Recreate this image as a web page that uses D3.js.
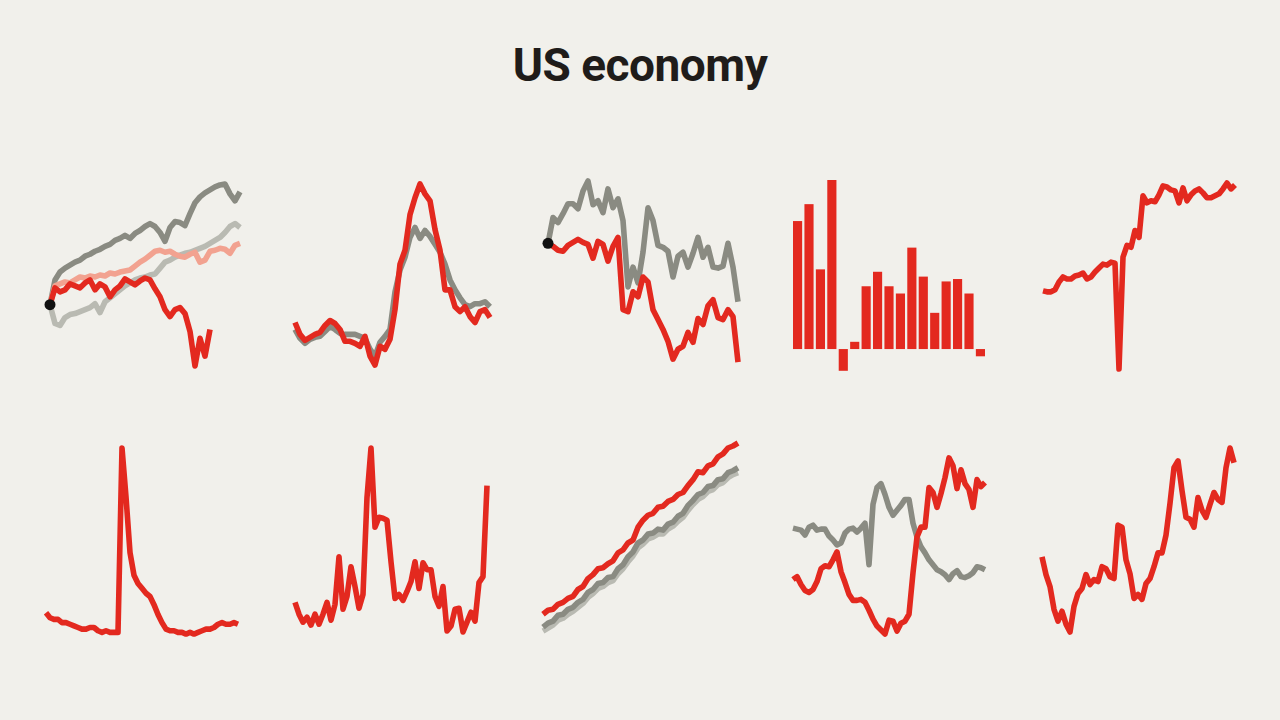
<!DOCTYPE html>
<html><head><meta charset="utf-8">
<script src="https://cdn.jsdelivr.net/npm/d3@7/dist/d3.min.js"></script>
<style>
html,body{margin:0;padding:0;background:#f1f0eb;}
svg{display:block;}
</style></head>
<body>
<svg id="chart" width="1280" height="720"></svg>
<script>
// ---------- DATA (index units in panel-relative scale) ----------
const title = "US economy";

// Panel 1: four indexed series, common start
const p1DarkGray = [67,92,100,104,107,110,112,116,118,121,123,126,128,132,134,137,134,139,142,146,149,146,140,131,145,151,150,147,159,170,176,180,183,186,188,189,179,172,181];
const p1LightGray = [67,48,46,54,57,58,60,62,64,68,59,70,74,78,82,86,89,92,94,95,97,98,104,110,112,115,117,119,120,122,124,126,129,132,135,140,146,149,145];
const p1Pink = [67,86,88,90,89,92,95,94,96,95,97,96,99,98,100,101,102,106,110,113,117,121,122,120,121,118,116,115,118,120,110,112,121,122,124,123,119,127,129];
const p1Red = [67,84,80,82,88,86,84,89,92,82,88,85,75,82,86,93,90,87,91,94,92,83,75,62,55,62,64,58,40,5,33,15,42];

// Panel 2
const p2Gray = [42,33,28,32,34,35,40,45,42,38,37,37,37,35,33,22,15,29,35,42,80,102,115,135,145,134,142,136,128,120,108,92,82,74,67,65,68,68,70,65];
const p2Red = [49,37,31,34,37,39,46,51,48,42,30,30,28,25,35,15,6,25,22,32,62,108,122,158,175,189,179,172,143,122,82,82,65,60,65,55,49,60,62,54];

// Panel 3
const p3Gray = [129,155,150,159,169,169,164,182,192,168,172,160,184,165,174,152,85,105,89,120,165,152,127,125,121,95,116,120,105,119,135,115,125,105,104,106,129,105,70];
const p3Red = [129,126,122,121,127,130,133,130,128,114,131,128,111,126,135,62,60,80,75,95,90,62,52,42,30,12,22,25,39,29,53,47,66,72,54,52,62,55,9];

// Panel 4: quarterly GDP growth (%)
const p4Quarters = ["2021Q1","2021Q2","2021Q3","2021Q4","2022Q1","2022Q2","2022Q3","2022Q4","2023Q1","2023Q2","2023Q3","2023Q4","2024Q1","2024Q2","2024Q3","2024Q4","2025Q1"];
const p4Growth = [5.3,6.0,3.3,7.0,-0.9,0.3,2.6,3.2,2.6,2.3,4.2,3.0,1.5,2.8,2.9,2.3,-0.3];

// Panel 5
const p5Red = [81,80,80,82,90,95,93,93,96,97,99,93,95,100,104,108,107,110,109,2,115,127,125,142,135,177,170,172,171,178,187,186,183,182,170,185,172,178,182,184,180,175,175,177,179,184,190,184,188];

// Panel 6: unemployment rate (%)
const p6Unemployment = [4.7,4.4,4.3,4.3,4.1,4.1,4.0,3.9,3.8,3.7,3.7,3.8,3.8,3.6,3.5,3.6,3.5,3.5,3.5,14.8,11.8,8.4,7.0,6.5,6.2,5.9,5.7,5.2,4.6,4.1,3.7,3.6,3.6,3.5,3.5,3.4,3.5,3.4,3.5,3.6,3.7,3.7,3.8,4.0,4.1,4.0,4.0,4.1,4.0];

// Panel 7
const p7Red = [34,22,14,19,11,22,12,22,34,16,32,80,27,40,70,50,28,42,140,190,110,120,119,117,75,38,42,36,45,55,75,48,74,67,67,40,30,50,5,10,27,28,4,14,24,15,54,60,152];

// Panel 8
const p8Red = [22,26,27,32,34,38,40,47,50,58,62,68,69,73,76,84,87,94,97,110,117,122,124,130,131,136,138,143,145,152,158,166,165,172,174,181,184,190,192,195];
const p8Gray = [9,13,15,21,22,27,29,34,37,44,47,53,54,59,60,68,72,80,85,94,97,103,104,108,107,113,115,121,124,132,137,143,145,151,152,158,159,165,167,170];
const p8LightGray = [5,8,11,16,18,22,25,29,33,39,43,48,50,54,56,63,68,75,81,89,93,98,100,103,103,108,111,116,120,127,133,138,141,146,148,153,155,160,163,165];

// Panel 9
const p9Gray = [109,108,107,102,110,112,107,108,108,101,97,92,94,104,108,109,105,109,114,72,133,150,154,143,130,122,127,132,138,138,114,100,90,84,77,72,67,65,62,57,63,66,60,59,61,64,70,69,67];
const p9Red = [57,60,52,46,44,47,55,68,71,70,77,85,65,54,42,36,36,37,34,26,17,10,6,2,16,15,5,13,15,22,64,100,110,110,150,145,130,144,160,180,172,149,168,154,148,130,158,151,155];

// Panel 10
const p10Red = [80,62,50,27,15,25,12,4,30,43,48,62,52,57,55,70,68,60,58,112,110,77,63,38,42,37,53,58,70,84,84,102,134,170,177,147,120,118,110,140,127,120,133,145,138,135,170,190,175];

// ---------- STYLE / LAYOUT ----------
const C = {red:"#e3291f", gray:"#8a8b82", lightGray:"#b9bab2", pink:"#f2a290", dot:"#111"};
const LW = 5.6;
const rows = [{top:181, bottom:371},{top:446, bottom:636}];

const svg = d3.select("#chart");
svg.append("text").attr("x",640).attr("y",81).attr("text-anchor","middle")
  .attr("font-family","Roboto, 'Open Sans', sans-serif").attr("font-weight",700)
  .attr("font-size",46).attr("letter-spacing",-0.5).attr("fill","#1f1c1a").text(title);

// Line panels: x range, row, full count, y domain, series
const linePanels = [
  {x:[50,240], row:0, n:39, dom:[0,192], series:[
    {d:p1LightGray,c:C.lightGray},{d:p1DarkGray,c:C.gray},{d:p1Pink,c:C.pink},{d:p1Red,c:C.red}], dot:true},
  {x:[295,490], row:0, n:40, dom:[0,192], series:[{d:p2Gray,c:C.gray},{d:p2Red,c:C.red}]},
  {x:[548,738], row:0, n:39, dom:[0,192], series:[{d:p3Gray,c:C.gray},{d:p3Red,c:C.red}], dot:true},
  {x:[1043,1235], row:0, n:49, dom:[0,192], series:[{d:p5Red,c:C.red}]},
  {x:[46,238], row:1, n:49, dom:[3.28,14.92], series:[{d:p6Unemployment,c:C.red}]},
  {x:[295,487], row:1, n:49, dom:[0,192], series:[{d:p7Red,c:C.red}]},
  {x:[543,738], row:1, n:40, dom:[0,192], series:[{d:p8LightGray,c:C.lightGray},{d:p8Gray,c:C.gray},{d:p8Red,c:C.red}]},
  {x:[793,985], row:1, n:49, dom:[0,192], series:[{d:p9Gray,c:C.gray},{d:p9Red,c:C.red}]},
  {x:[1042,1234], row:1, n:49, dom:[0,192], series:[{d:p10Red,c:C.red}]}
];

linePanels.forEach(p => {
  const r = rows[p.row];
  const x = d3.scaleLinear().domain([0,p.n-1]).range(p.x);
  const y = d3.scaleLinear().domain(p.dom).range([r.bottom, r.top]);
  const line = d3.line().x((d,i)=>x(i)).y(d=>y(d)).curve(d3.curveLinear);
  const g = svg.append("g");
  p.series.forEach(s => {
    g.append("path").attr("d", line(s.d)).attr("fill","none")
      .attr("stroke", s.c).attr("stroke-width", LW)
      .attr("stroke-linejoin","round").attr("stroke-linecap","butt");
  });
  if (p.dot) {
    const s0 = p.series[p.series.length-1].d;
    g.append("circle").attr("cx", x(0)).attr("cy", y(s0[0])).attr("r", 5.5).attr("fill", C.dot);
  }
});

// Bar panel (GDP)
{
  const r = rows[0];
  const x = d3.scaleBand().domain(p4Quarters).range([793,985]).paddingInner(0.2).paddingOuter(0);
  const y = d3.scaleLinear().domain([-0.95,7.0]).range([372, 180]);
  svg.append("g").selectAll("rect").data(p4Growth).join("rect")
    .attr("x",(d,i)=>x(p4Quarters[i]))
    .attr("width", x.bandwidth())
    .attr("y", d=>y(Math.max(0,d)))
    .attr("height", d=>Math.abs(y(d)-y(0)))
    .attr("fill", C.red);
}
</script>
</body></html>
